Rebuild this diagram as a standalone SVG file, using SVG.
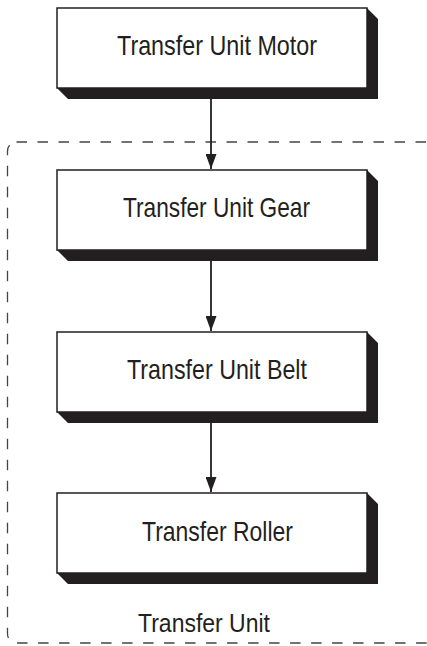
<svg xmlns="http://www.w3.org/2000/svg" width="427" height="646" viewBox="0 0 427 646">
<style>
.shadow{fill:#231f20}
.box{fill:#fff;stroke:#231f20;stroke-width:1.5}
.lbl{font-family:"Liberation Sans Narrow","Liberation Sans",Arial,sans-serif;font-size:28px;fill:#231f20;text-anchor:middle}
.conn{stroke:#231f20;stroke-width:1.8;fill:none}
.group{fill:none;stroke:#444;stroke-width:1.3;stroke-dasharray:10.5 10.5}
</style>
<defs>
<marker id="arr" viewBox="0 0 15 11" refX="15" refY="5.5" markerWidth="15" markerHeight="11" markerUnits="userSpaceOnUse" orient="auto">
<path d="M0,0 L15,5.5 L0,11 Z" fill="#231f20"/>
</marker>
</defs>
<rect class="group" x="7.5" y="142" width="440" height="501" rx="9"/>
<text class="lbl" x="204" y="632" textLength="132" lengthAdjust="spacingAndGlyphs" style="font-size:26px">Transfer Unit</text>
<g id="motor">
<polygon class="shadow" points="367,8 378,19 378,99 68,99 57,88 367,88"/>
<rect class="box" x="57" y="8" width="310" height="80"/>
<text class="lbl" x="217" y="55" textLength="200" lengthAdjust="spacingAndGlyphs">Transfer Unit Motor</text>
</g>
<g id="gear">
<polygon class="shadow" points="367,170 378,181 378,261 68,261 57,250 367,250"/>
<rect class="box" x="57" y="170" width="310" height="80"/>
<text class="lbl" x="216.5" y="217" textLength="187" lengthAdjust="spacingAndGlyphs">Transfer Unit Gear</text>
</g>
<g id="belt">
<polygon class="shadow" points="367,332 378,343 378,423 68,423 57,412 367,412"/>
<rect class="box" x="57" y="332" width="310" height="80"/>
<text class="lbl" x="217" y="379" textLength="180" lengthAdjust="spacingAndGlyphs">Transfer Unit Belt</text>
</g>
<g id="roller">
<polygon class="shadow" points="367,493 378,504 378,584 68,584 57,573 367,573"/>
<rect class="box" x="57" y="493" width="310" height="80"/>
<text class="lbl" x="217.5" y="541" textLength="151" lengthAdjust="spacingAndGlyphs">Transfer Roller</text>
</g>
<g id="connectors">
<line class="conn" x1="211" y1="99" x2="211" y2="169" marker-end="url(#arr)"/>
<line class="conn" x1="211" y1="261" x2="211" y2="331" marker-end="url(#arr)"/>
<line class="conn" x1="211" y1="423" x2="211" y2="492" marker-end="url(#arr)"/>
</g>
</svg>
